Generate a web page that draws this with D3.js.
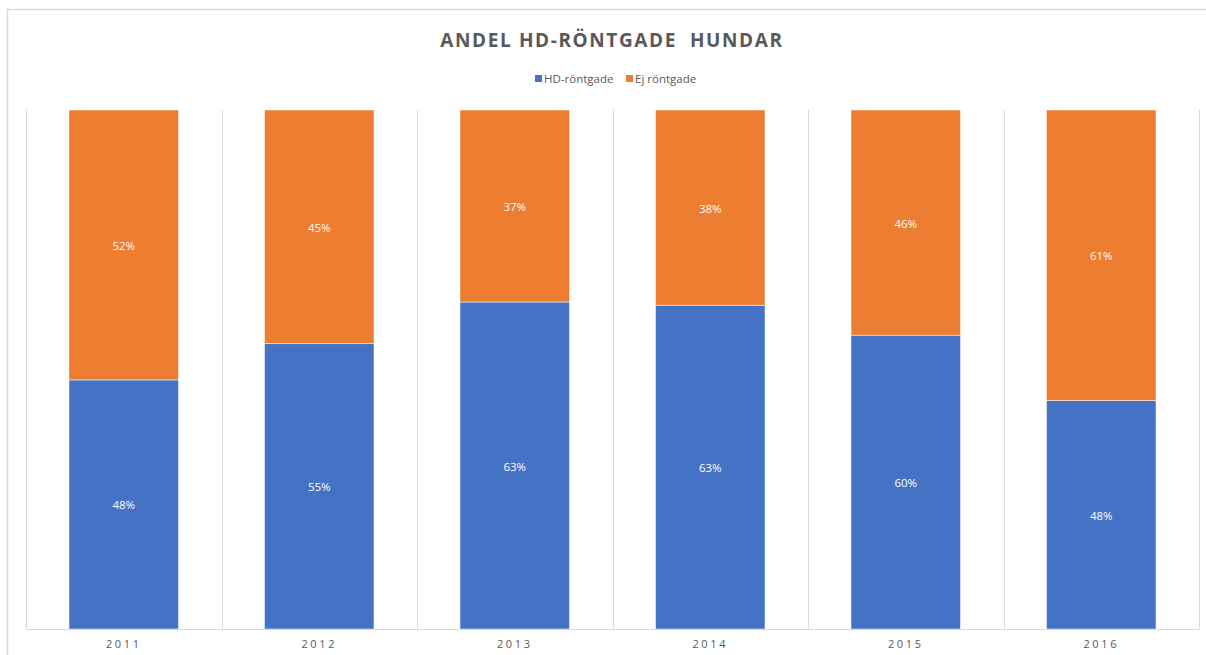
<!DOCTYPE html>
<html>
<head>
<meta charset="utf-8">
<script src="https://cdn.jsdelivr.net/npm/d3@7"></script>
<style>
  body { margin: 0; background: #fff; }
  svg { display: block; font-family: "Open Sans", "Liberation Sans", sans-serif; }
</style>
</head>
<body>
<div id="chart"></div>
<script>
// data
const years = ['2011', '2012', '2013', '2014', '2015', '2016'];
const hdRontgade = [48, 55, 63, 63, 60, 48];
const ejRontgade = [52, 45, 37, 38, 46, 61];
const seriesNames = ['HD-röntgade', 'Ej röntgade'];
const seriesColors = ['#4472C4', '#ED7D31'];

const width = 1206, height = 655;
const margin = {top: 110, right: 7, bottom: 26, left: 26};

const rows = years.map((y, i) => ({year: y, hd: hdRontgade[i], ej: ejRontgade[i]}));
const keys = ['hd', 'ej'];

const svg = d3.select('#chart').append('svg')
    .attr('width', width)
    .attr('height', height);

// chart frame
svg.append('rect')
    .attr('x', 7.5).attr('y', 9.5)
    .attr('width', width).attr('height', height)
    .attr('fill', 'none')
    .attr('stroke', '#d9d9d9')
    .attr('stroke-width', 1.5);

const x = d3.scaleBand()
    .domain(years)
    .range([margin.left, width - margin.right])
    .paddingInner(0.44)
    .paddingOuter(0.22);

const y = d3.scaleLinear()
    .domain([0, 1])
    .range([height - margin.bottom, margin.top]);

const stack = d3.stack().keys(keys).offset(d3.stackOffsetExpand);
const layers = stack(rows);

// vertical gridlines between categories
const gridX = d3.range(years.length + 1).map(i => margin.left + i * (width - margin.right - margin.left) / years.length);
svg.append('g')
  .selectAll('line')
  .data(gridX)
  .join('line')
    .attr('x1', d => Math.round(d) + 0.5)
    .attr('x2', d => Math.round(d) + 0.5)
    .attr('y1', margin.top)
    .attr('y2', height - margin.bottom)
    .attr('stroke', '#d9d9d9')
    .attr('stroke-width', 1);

// bars
const g = svg.append('g');
g.selectAll('g.layer')
  .data(layers)
  .join('g')
    .attr('class', 'layer')
    .attr('fill', (d, i) => seriesColors[i])
  .selectAll('rect')
  .data(d => d)
  .join('rect')
    .attr('x', d => x(d.data.year))
    .attr('y', d => y(d[1]))
    .attr('width', x.bandwidth())
    .attr('height', d => y(d[0]) - y(d[1]))
    .attr('stroke', '#fff')
    .attr('stroke-opacity', 0.5)
    .attr('stroke-width', 1);

// data labels show the raw values
layers.forEach((layer, li) => {
  g.append('g')
    .selectAll('text')
    .data(layer)
    .join('text')
      .attr('x', d => x(d.data.year) + x.bandwidth() / 2)
      .attr('y', d => (y(d[0]) + y(d[1])) / 2 + 5)
      .attr('text-anchor', 'middle')
      .attr('fill', '#fff')
      .attr('font-size', 11.5)
      .text(d => d.data[keys[li]] + '%');
});

// x axis
const xAxis = svg.append('g')
    .attr('transform', `translate(0,${height - margin.bottom})`)
    .call(d3.axisBottom(x).tickSize(0).tickPadding(11));
xAxis.select('.domain').attr('stroke', '#d9d9d9').attr('stroke-width', 1.2);
xAxis.selectAll('text')
    .attr('font-size', 11)
    .attr('fill', '#595959')
    .attr('letter-spacing', '2.6px')
    .attr('font-family', '"Open Sans", "Liberation Sans", sans-serif');

// title
svg.append('text')
    .attr('x', 612)
    .attr('y', 47)
    .attr('text-anchor', 'middle')
    .attr('font-size', 19)
    .attr('font-weight', 'bold')
    .attr('letter-spacing', '1.6px')
    .attr('fill', '#595959')
    .text('ANDEL HD-RÖNTGADE  HUNDAR')
    .style('white-space', 'pre');

// legend
const legend = svg.append('g').attr('transform', 'translate(535,83)');
const legendX = [0, 91];
seriesNames.forEach((name, i) => {
  const item = legend.append('g').attr('transform', `translate(${legendX[i]},0)`);
  item.append('rect')
      .attr('x', 0).attr('y', -8)
      .attr('width', 7).attr('height', 7)
      .attr('fill', seriesColors[i]);
  item.append('text')
      .attr('x', 9)
      .attr('y', 0)
      .attr('font-size', 11.5)
      .attr('fill', '#595959')
      .text(name);
});
</script>
</body>
</html>
